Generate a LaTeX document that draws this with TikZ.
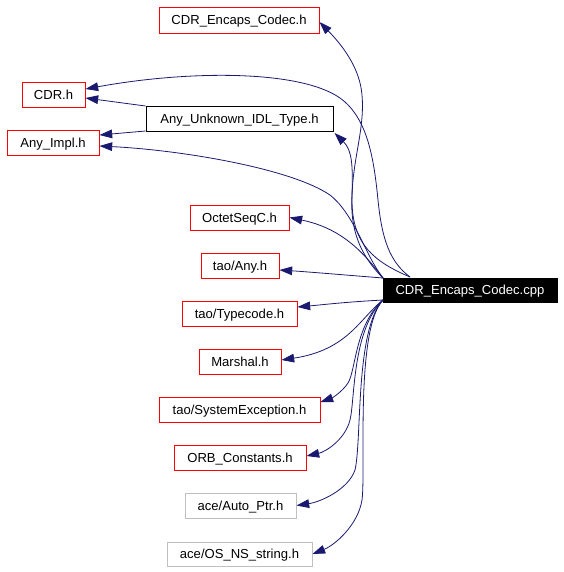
\documentclass[tikz,border=0pt]{standalone}
\usepackage{fontspec}
\setmainfont{Liberation Sans}
\usetikzlibrary{arrows.meta}
\definecolor{edgeblue}{HTML}{191970}
\definecolor{boxred}{HTML}{FF0000}
\definecolor{boxgray}{HTML}{BFBFBF}
\begin{document}
\begin{tikzpicture}[x=0.75pt,y=-0.75pt,
  hbox/.style={draw=boxred,line width=0.75pt,rectangle,inner sep=0pt,font=\fontsize{9.8}{12}\selectfont,fill=white,text height=9pt,text depth=2pt},
  sz/.style 2 args={minimum width=#1*0.75pt,minimum height=#2*0.75pt},
  blackbox/.style={hbox,draw=black},
  graybox/.style={hbox,draw=boxgray},
  mainbox/.style={hbox,draw=black,fill=black,text=white},
  dep/.style={draw=edgeblue,line width=0.6pt,-{Triangle[length=9.5pt,width=6.5pt]},fill=none}
]
\useasboundingbox (0,0) rectangle (564,572);

\coordinate (c1) at (410,277);
\coordinate (c2) at (383,278);
\coordinate (c3) at (383,300);

\node[hbox,sz={160}{26}] (encH) at (239,20) {CDR\_Encaps\_Codec.h};
\node[hbox,sz={63}{25}] (cdr) at (53.5,94.5) {CDR.h};
\node[blackbox,sz={187}{25}] (unk) at (239.5,119) {Any\_Unknown\_IDL\_Type.h};
\node[hbox,sz={92}{25}] (impl) at (53,142.5) {Any\_Impl.h};
\node[hbox,sz={99}{25}] (oct) at (239.5,217.5) {OctetSeqC.h};
\node[hbox,sz={78}{25}] (any) at (240,265.5) {tao/Any.h};
\node[mainbox,sz={174}{24}] (cpp) at (470,290) {CDR\_Encaps\_Codec.cpp};
\node[hbox,sz={115}{25}] (tc) at (239.5,314) {tao/Typecode.h};
\node[hbox,sz={82}{25}] (mar) at (240,361.5) {Marshal.h};
\node[hbox,sz={161}{25}] (sys) at (239.5,409.5) {tao/SystemException.h};
\node[hbox,sz={132}{25}] (orb) at (240,457.5) {ORB\_Constants.h};
\node[graybox,sz={111}{25}] (auto) at (240.5,505.5) {ace/Auto\_Ptr.h};
\node[graybox,sz={145}{24}] (osns) at (239.5,554) {ace/OS\_NS\_string.h};

% edges from cpp
\draw[dep] (c1) .. controls (375,262) and (352,245) .. (352,200)
  .. controls (352,160) and (365,130) .. (362,95)
  .. controls (360,70) and (345,48) .. ([yshift=-2*0.75pt]encH.east);
\draw[dep] (c1) .. controls (390,262) and (382,240) .. (378,200)
  .. controls (374,160) and (368,118) .. (340,98)
  .. controls (300,70) and (190,70) .. ([yshift=5.5*0.75pt]cdr.east);
\draw[dep] (c2) .. controls (360,255) and (350,230) .. (352,195)
  .. controls (353,165) and (352,150) .. ([xshift=1*0.75pt,yshift=-1*0.75pt]unk.south east);
\draw[dep] (c2) .. controls (365,255) and (355,215) .. (330,195)
  .. controls (290,168) and (180,150) .. ([yshift=-3.5*0.75pt]impl.east);
\draw[dep] (c2) .. controls (362,250) and (340,228) .. (oct.east);
\draw[dep] (c2) .. controls (345,275) and (310,272) .. ([yshift=-4.5*0.75pt]any.east);
\draw[dep] (c3) .. controls (345,302) and (320,305) .. ([yshift=7*0.75pt]tc.east);
\draw[dep] (c3) .. controls (360,318) and (348,350) .. ([yshift=1.5*0.75pt]mar.east);
\draw[dep] (c3) .. controls (355,325) and (356,370) .. (348,383)
  .. controls (342,392) and (332,398) .. ([yshift=7.5*0.75pt]sys.east);
\draw[dep] (c3) .. controls (352,330) and (355,400) .. (350,420)
  .. controls (345,440) and (325,452) .. ([yshift=1.5*0.75pt]orb.east);
\draw[dep] (c3) .. controls (355,330) and (362,440) .. (355,470)
  .. controls (348,490) and (320,502) .. (auto.east);
\draw[dep] (c3) .. controls (355,330) and (366,470) .. (362,500)
  .. controls (358,525) and (335,545) .. (osns.east);
% edges from Any_Unknown_IDL_Type.h
\draw[dep] (unk.north west) -- ([yshift=-3.5*0.75pt]cdr.east);
\draw[dep] ([yshift=1*0.75pt]unk.south west) -- ([yshift=7.5*0.75pt]impl.east);
\end{tikzpicture}
\end{document}
